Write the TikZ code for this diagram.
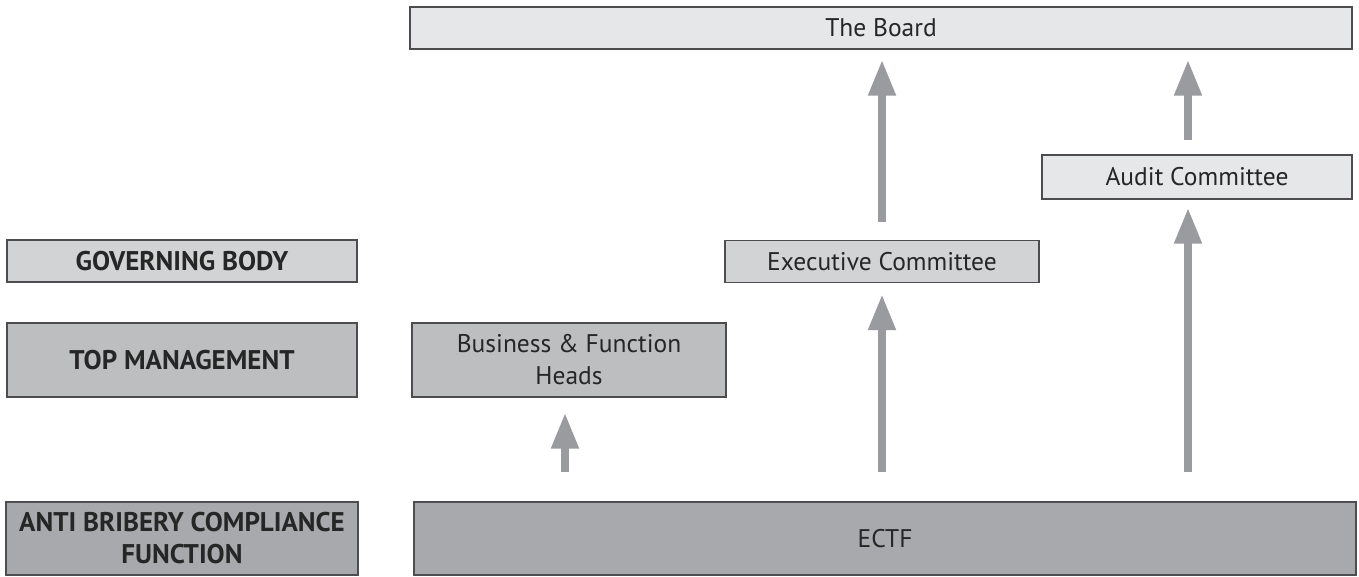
\documentclass[tikz,border=0pt]{standalone}
\usepackage{fontspec}
\setmainfont{PT Sans}
\usetikzlibrary{arrows.meta}
\definecolor{shadeA}{HTML}{E6E7E8}
\definecolor{shadeB}{HTML}{D1D3D4}
\definecolor{shadeC}{HTML}{BCBEC0}
\definecolor{shadeD}{HTML}{A7A9AC}
\definecolor{edge}{HTML}{4D4D4F}
\definecolor{arrowgray}{HTML}{9A9B9F}
\begin{document}
\begin{tikzpicture}[x=1pt,y=-1pt,
  box/.style={draw=edge, line width=1.4pt, rectangle, inner sep=0pt,
    align=center, font=\fontsize{25.5}{32}\selectfont, text=black!85},
  level/.style={box, font=\fontsize{27}{32}\selectfont\bfseries},
  uparrow/.style={draw=arrowgray, line width=8pt,
    -{Triangle[width=26pt,length=36pt]}}]
\useasboundingbox (0,0) rectangle (1359,577);

% level labels on the left
\node[level, fill=shadeB, minimum width=350pt, minimum height=42pt] (gov) at (182,261) {GOVERNING BODY};
\node[level, fill=shadeC, minimum width=350pt, minimum height=74pt] (top) at (182,360) {TOP MANAGEMENT};
\node[level, fill=shadeD, minimum width=352pt, minimum height=73pt] (abc) at (182,538.5) {ANTI BRIBERY COMPLIANCE\\FUNCTION};

% reporting bodies
\node[box, fill=shadeA, minimum width=942pt, minimum height=42pt] (board) at (881,28) {The Board};
\node[box, fill=shadeA, minimum width=310pt, minimum height=44pt] (audit) at (1197,177) {Audit Committee};
\node[box, fill=shadeB, minimum width=314pt, minimum height=42pt] (exec) at (882,261.5) {Executive Committee};
\node[box, fill=shadeC, minimum width=314pt, minimum height=74pt] (bfh) at (569,360) {Business \& Function\\Heads};
\node[box, fill=shadeD, minimum width=942pt, minimum height=73pt] (ectf) at (885,538.5) {ECTF};

% arrow columns
\coordinate (c1) at (565,0);
\coordinate (c2) at (882,0);
\coordinate (c3) at (1188,0);

\draw[uparrow] ([yshift=29pt]ectf.north -| c1) -- ([yshift=-15pt]bfh.south -| c1);
\draw[uparrow] ([yshift=29pt]ectf.north -| c2) -- ([yshift=-11pt]exec.south -| c2);
\draw[uparrow] ([yshift=18pt]exec.north -| c2) -- ([yshift=-10pt]board.south -| c2);
\draw[uparrow] ([yshift=29pt]ectf.north -| c3) -- ([yshift=-8pt]audit.south -| c3);
\draw[uparrow] ([yshift=14pt]audit.north -| c3) -- ([yshift=-10pt]board.south -| c3);
\end{tikzpicture}
\end{document}
